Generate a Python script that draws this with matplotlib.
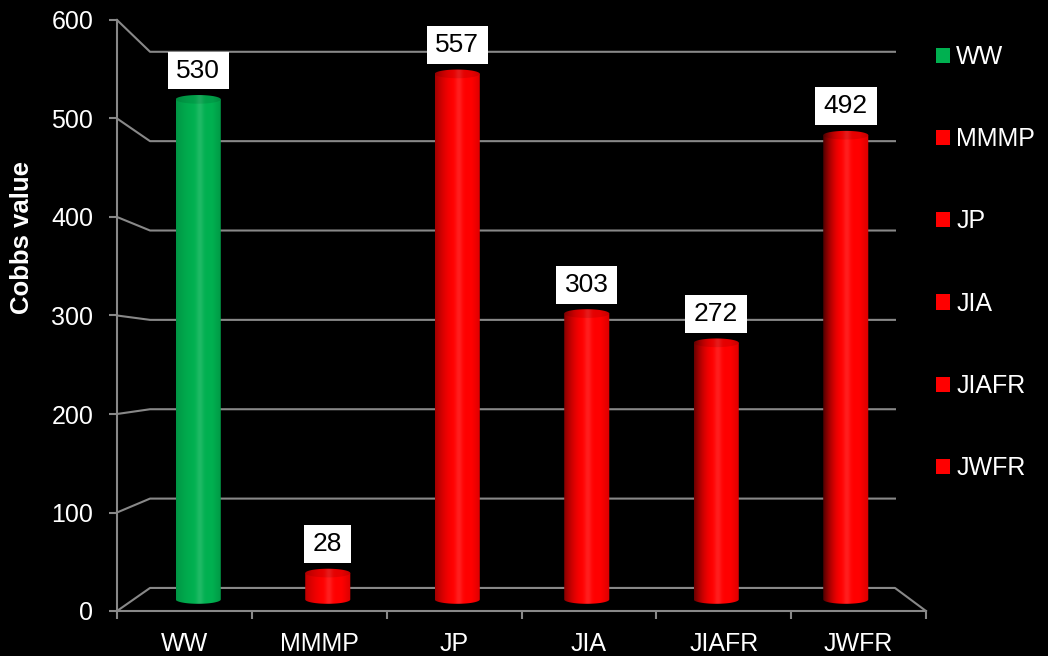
import matplotlib.pyplot as plt
import numpy as np
from matplotlib.patches import Patch, PathPatch
from matplotlib.path import Path
from matplotlib.colors import to_rgb

categories = ['WW', 'MMMP', 'JP', 'JIA', 'JIAFR', 'JWFR']
values = [530, 28, 557, 303, 272, 492]
bar_colors = ['#00b050', '#ff0000', '#ff0000', '#ff0000', '#ff0000', '#ff0000']
y_ticks = [0, 100, 200, 300, 400, 500, 600]

plt.rcParams['font.family'] = ['Liberation Sans', 'DejaVu Sans']

GRID = '#888888'

fig = plt.figure(figsize=(10.48, 6.56), dpi=100, facecolor='black')
ax = fig.add_axes([117 / 1048, 45 / 656, 809 / 1048, 591 / 656])
ax.set_facecolor('black')


def project(x, v, d):
    # d = 0 front plane, d = 1 back wall (fake perspective)
    return 0.245 * d + x * (1 - 0.0792 * d), 23.4 * d + v * (1 - 0.0928 * d)


def shade_img(color, dark, n=120):
    base = np.array(to_rgb(color))
    t = np.linspace(0, 1, n)
    m = np.ones(n)
    left = t < 0.4
    m[left] = 1 - dark * ((0.4 - t[left]) / 0.4) ** 1.6
    right = t > 0.8
    m[right] *= 1 - 0.15 * (t[right] - 0.8) / 0.2
    rgb = base[None, :] * m[:, None]
    h = 0.12 * np.exp(-((t - 0.52) / 0.08) ** 2)
    rgb = rgb + (1 - rgb) * h[:, None]
    return np.clip(np.stack([rgb, rgb]), 0, 1)


# back wall grid lines + floor
for t in y_ticks:
    fx, fy = project(0, t, 0)
    bx, by = project(0, t, 1)
    ex, ey = project(6, t, 1)
    xs = [fx, bx, ex]
    ys = [fy, by, ey]
    if t == 0:
        rx, ry = project(6, 0, 0)
        xs.append(rx)
        ys.append(ry)
    ax.plot(xs, ys, color=GRID, lw=1.5, clip_on=False, zorder=1)

# cylinders
half_w = 0.174
eh = 8.8
k_bar = 0.958
for i, (v, c) in enumerate(zip(values, bar_colors)):
    xl, yb = project(i + 0.5 - half_w, 0, 0.5)
    xr, _ = project(i + 0.5 + half_w, 0, 0.5)
    yt = yb + v * k_bar
    xc = (xl + xr) / 2
    a = (xr - xl) / 2
    dark = 0.15 + 0.55 * i / (len(values) - 1)

    th = np.linspace(np.pi, 2 * np.pi, 50)
    bottom = np.column_stack([xc + a * np.cos(th), yb + eh / 2 * np.sin(th)])
    verts = np.vstack([[xl, yt], bottom, [xr, yt], [xl, yt]])
    body = PathPatch(Path(verts), facecolor='none', edgecolor='none')
    ax.add_patch(body)
    img = ax.imshow(shade_img(c, dark), extent=[xl, xr, yb - eh, yt],
                    aspect='auto', origin='lower', interpolation='bilinear',
                    zorder=2)
    img.set_clip_path(body)

    th = np.linspace(0, 2 * np.pi, 80)
    top = PathPatch(Path(np.column_stack([xc + a * np.cos(th), yt + eh / 2 * np.sin(th)])),
                    facecolor='none', edgecolor='none')
    ax.add_patch(top)
    timg = ax.imshow(shade_img(c, dark) * 0.9, extent=[xl, xr, yt - eh, yt + eh],
                     aspect='auto', origin='lower', interpolation='bilinear',
                     zorder=3)
    timg.set_clip_path(top)

    ax.annotate(str(v), (xc, yt + eh / 2), xytext=(0, 9), textcoords='offset points',
                ha='center', va='bottom', fontsize=19, color='black', zorder=5,
                bbox=dict(boxstyle='square,pad=0.33', mutation_aspect=0.8,
                          fc='white', ec='none'))

ax.set_xlim(0, 6)
ax.set_ylim(0, 600)

for s in ['top', 'right']:
    ax.spines[s].set_visible(False)
for s in ['left', 'bottom']:
    ax.spines[s].set_color(GRID)
    ax.spines[s].set_linewidth(1.5)

ax.set_yticks(y_ticks)
ax.tick_params(axis='y', colors=GRID, labelcolor='white', labelsize=18,
               length=6, width=1.5, pad=11)
ax.set_xticks(np.arange(len(categories)) + 0.5)
ax.set_xticklabels(categories)
ax.set_xticks(np.arange(len(categories) + 1), minor=True)
ax.tick_params(axis='x', which='major', length=0, labelsize=18,
               labelcolor='white', pad=15)
ax.tick_params(axis='x', which='minor', length=6, width=1.5, color=GRID)

ax.text(-0.117, 0.632, 'Cobbs value', transform=ax.transAxes, rotation=90,
        ha='center', va='center', fontsize=18.5, fontweight='bold', color='white')

handles = [Patch(facecolor=c, edgecolor='none') for c in bar_colors]
fig.legend(handles, categories, loc='upper left',
           bbox_to_anchor=(936 / 1048, 1 - 45 / 656), frameon=False,
           fontsize=18, labelcolor='white', handlelength=0.56,
           handleheight=0.56, handletextpad=0.25, labelspacing=2.33,
           borderpad=0, borderaxespad=0)

fig.savefig('out.png', dpi=100, facecolor='black')
